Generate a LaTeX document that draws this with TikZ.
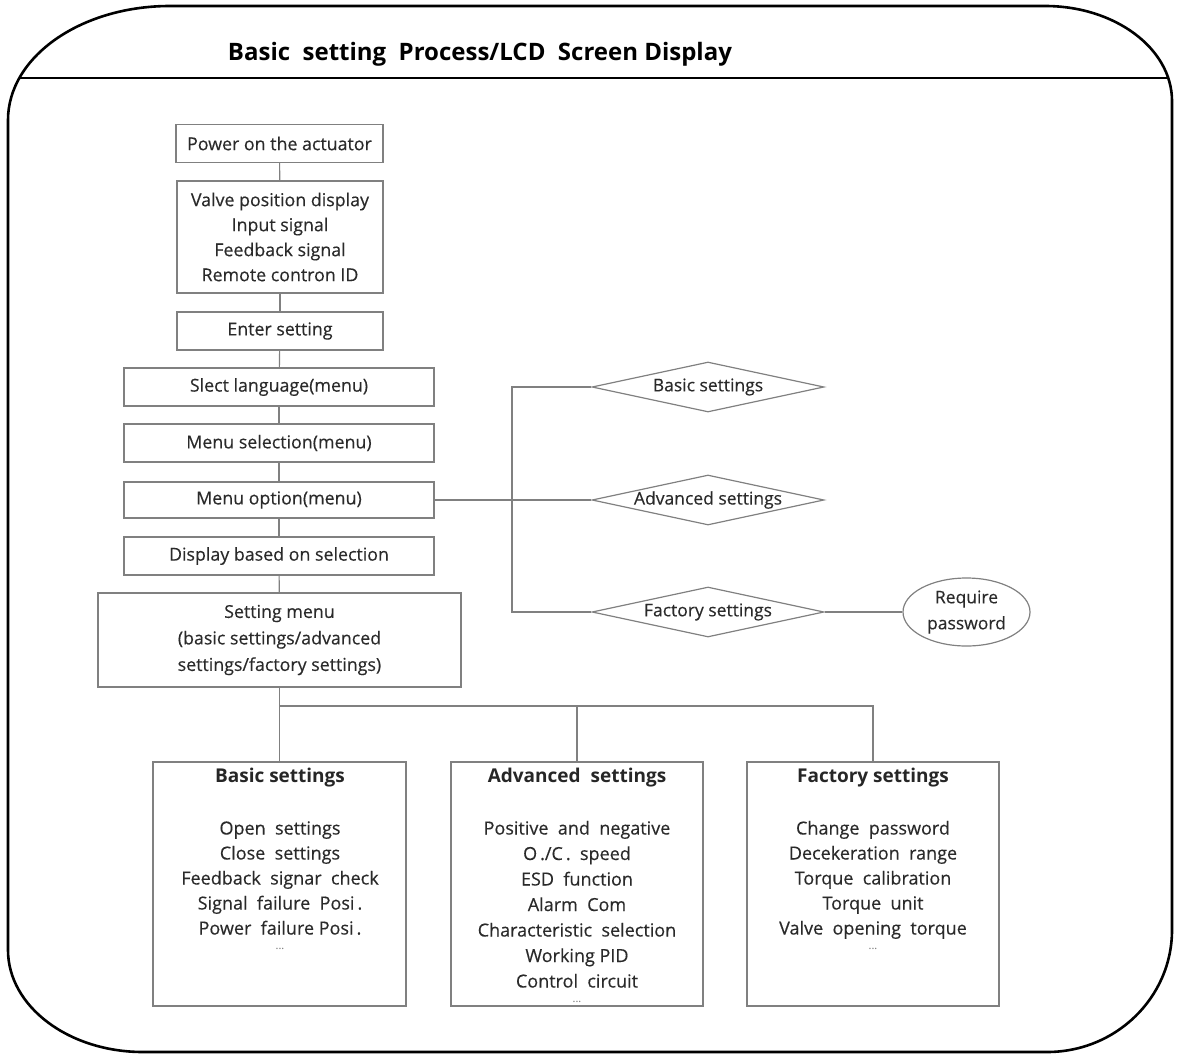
\documentclass[tikz,border=0pt]{standalone}
\usepackage{fontspec}
\setmainfont{Open Sans}
\newfontfamily\regfont{Open Sans}[FakeBold=0.35]
\usetikzlibrary{shapes.geometric}
\definecolor{boxline}{HTML}{808080}
\definecolor{txt}{HTML}{2A2A2A}
\begin{document}
\begin{tikzpicture}[x=1pt,y=-1pt,
 every node/.style={text=txt},
 box/.style={draw=boxline, line width=1.3pt, inner sep=0pt, align=center, font=\regfont\fontsize{17.8}{25}\selectfont},
 dia/.style={draw=boxline, line width=1.2pt, diamond, aspect=4.64, inner sep=0pt, minimum width=232pt, minimum height=50pt, font=\regfont\fontsize{17.5}{25}\selectfont},
 ell/.style={draw=boxline, line width=1.2pt, ellipse, inner sep=0pt, minimum width=127pt, minimum height=68pt, align=center, font=\regfont\fontsize{17.5}{26}\selectfont},
 conn/.style={draw=boxline, line width=1.2pt},
 item/.style={anchor=base, inner sep=0pt, font=\regfont\fontsize{18}{25}\selectfont},
 dots/.style={anchor=base, inner sep=0pt, text=black!55, font=\fontsize{11}{11}\selectfont},
 head/.style={anchor=base, inner sep=0pt, font=\bfseries\fontsize{19}{25}\selectfont, text=black!85},
 frame/.style={draw=black, line width=2.6pt}
]
\useasboundingbox (0,0) rectangle (1177,1054);
% outer frame
\draw[frame] (8,120) .. controls (8,57) and (80.6,6) .. (170,6)
  -- (1045,6) .. controls (1115.1,6) and (1172,48.6) .. (1172,101)
  -- (1172,930) .. controls (1172,997.4) and (1116,1052) .. (1047,1052)
  -- (143,1052) .. controls (68.5,1052) and (8,1006.3) .. (8,950) -- cycle;
\draw[draw=black, line width=2pt] (19,78) -- (1168,78);
\node[inner sep=0pt, text=black, font=\bfseries\fontsize{24}{28}\selectfont] (title) at (480,54)
  {\scalebox{1.0}[1]{Basic~ setting~ Process/LCD~ Screen Display}};

% main column
\node[box, minimum width=207pt, minimum height=38pt] (p1) at (279.5,143.5) {Power on the actuator};
\node[box, minimum width=206pt, minimum height=112pt] (p2) at (280,237) {Valve position display\\Input signal\\Feedback signal\\Remote contron ID};
\node[box, minimum width=206pt, minimum height=38pt] (p3) at (280,331) {Enter setting};
\node[box, minimum width=310pt, minimum height=38pt] (p4) at (279,387) {Slect language(menu)};
\node[box, minimum width=310pt, minimum height=38pt] (p5) at (279,443) {Menu selection(menu)};
\node[box, minimum width=310pt, minimum height=36pt] (p6) at (279,500) {Menu option(menu)};
\node[box, minimum width=310pt, minimum height=38pt] (p7) at (279,556) {Display based on selection};
\node[box, minimum width=363pt, minimum height=94pt, font=\regfont\fontsize{17.8}{26.5}\selectfont] (p8) at (279.5,640) {Setting menu\\(basic settings/advanced\\settings/factory settings)};

\draw[conn] (p1) -- (p2);
\draw[conn] (p2) -- (p3);
\draw[conn] (p3) -- (p4);
\draw[conn] (p4) -- (p5);
\draw[conn] (p5) -- (p6);
\draw[conn] (p6) -- (p7);
\draw[conn] (p7) -- (p8);

% diamonds
\node[dia] (d1) at (708,387) {Basic settings};
\node[dia] (d2) at (708,500) {Advanced settings};
\node[dia] (d3) at (708,612) {Factory settings};
\node[ell] (e1) at (966.5,612) {Require\\password};
\coordinate (vx) at (512,500);
\draw[conn] (p6.east) -- (d2.west);
\draw[conn] (d1.west) -- (d1.west -| vx) -- (d3.west -| vx) -- (d3.west);
\draw[conn] (d3.east) -- (e1.west);

% bottom boxes
\node[draw=boxline, line width=1.3pt, minimum width=253pt, minimum height=244pt, inner sep=0pt] (b1) at (279.5,884) {};
\node[draw=boxline, line width=1.3pt, minimum width=252pt, minimum height=244pt, inner sep=0pt] (b2) at (577,884) {};
\node[draw=boxline, line width=1.3pt, minimum width=252pt, minimum height=244pt, inner sep=0pt] (b3) at (873,884) {};
\coordinate (bus) at (279.5,706);
\draw[conn] (p8.south) -- (b1.north);
\draw[conn] (bus) -- (bus -| b3.north) -- (b3.north);
\draw[conn] (bus -| b2.north) -- (b2.north);

\node[head] (b1h) at (280,782) {Basic settings};
\node[head] (b2h) at (577,782) {Advanced~ settings};
\node[head] (b3h) at (873,782) {Factory settings};

\foreach \t [count=\i] in {{Open~ settings},{Close~ settings},{Feedback~ signar~ check},{Signal~ failure~ Posi\,.},{Power~ failure Posi\,.}}
  \node[item] (b1-\i) at (280,{834.5+25*(\i-1)}) {\t};
\node[dots] (b1d) at (280,949) {...};
\foreach \t [count=\i] in {{Positive~ and~ negative},{O\,./C\,.~ speed},{ESD~ function},{Alarm~ Com},{Characteristic~ selection},{Working PID},{Control~ circuit}}
  \node[item] (b2-\i) at (577,{834.5+25.5*(\i-1)}) {\t};
\node[dots] (b2d) at (577,1002) {...};
\foreach \t [count=\i] in {{Change~ password},{Decekeration~ range},{Torque~ calibration},{Torque~ unit},{Valve~ opening~ torque}}
  \node[item] (b3-\i) at (873,{834.5+25*(\i-1)}) {\t};
\node[dots] (b3d) at (873,949) {...};
\end{tikzpicture}
\end{document}
